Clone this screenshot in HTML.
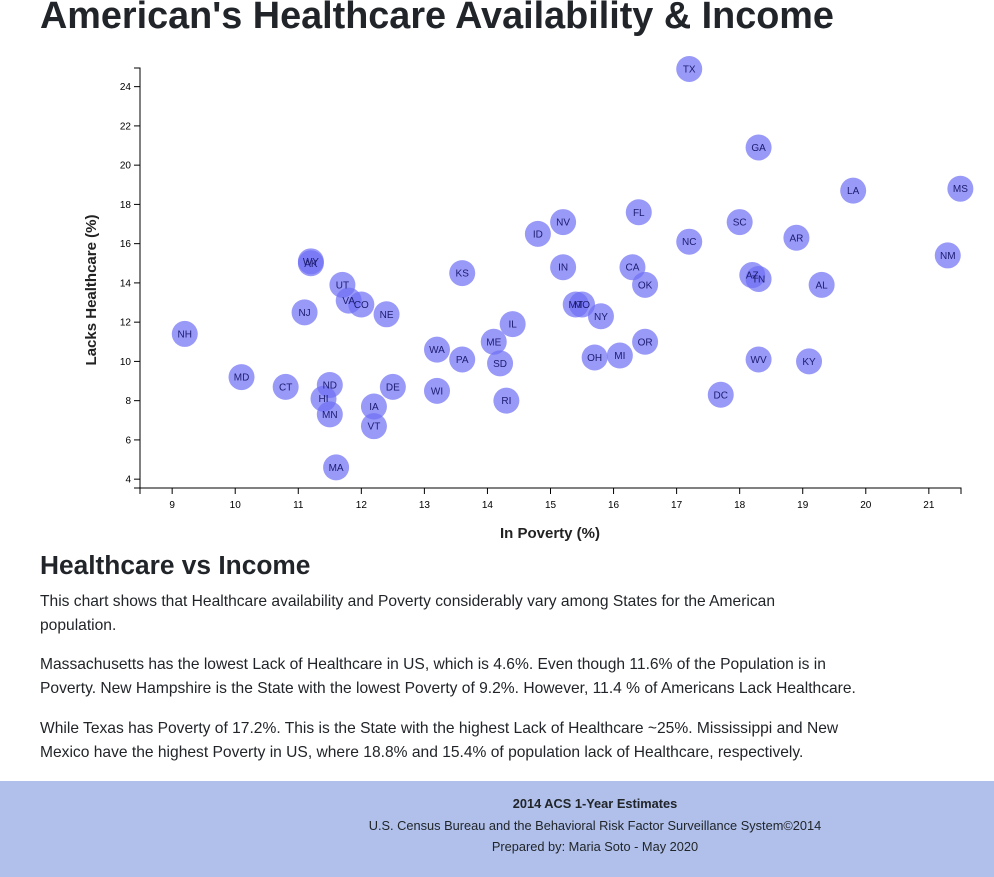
<!DOCTYPE html>
<html><head><meta charset="utf-8"><style>
body{margin:0;width:994px;height:877px;overflow:hidden;background:#fff;font-family:"Liberation Sans","DejaVu Sans",sans-serif;color:#212529;position:relative}
h1{position:absolute;left:40px;top:-5px;margin:0;font-size:37.8px;font-weight:bold;color:#212529}
h2{position:absolute;left:40px;top:550px;margin:0;font-size:26.3px;font-weight:bold;color:#212529}
.txt{position:absolute;left:40px;width:900px;font-size:15.6px;line-height:24px;margin:0;white-space:nowrap}
footer{position:absolute;left:0;top:781px;width:994px;height:96px;background:#b0c0eb;text-align:center;font-size:12.8px;line-height:21.5px;padding-top:12px;box-sizing:border-box}
footer div{position:absolute;left:0;width:1190px;top:12px}
svg text{font-family:"Liberation Sans",sans-serif}
</style></head><body>
<h1>American's Healthcare Availability &amp; Income</h1>
<svg id="chart" width="994" height="545" style="position:absolute;left:0;top:0"></svg>
<h2>Healthcare vs Income</h2>
<p class="txt" style="top:590px">This chart shows that Healthcare availability and Poverty considerably vary among States for the American<br>population.</p>
<p class="txt" style="top:653px">Massachusetts has the lowest Lack of Healthcare in US, which is 4.6%. Even though 11.6% of the Population is in<br>Poverty. New Hampshire is the State with the lowest Poverty of 9.2%. However, 11.4 % of Americans Lack Healthcare.</p>
<p class="txt" style="top:717px">While Texas has Poverty of 17.2%. This is the State with the highest Lack of Healthcare ~25%. Mississippi and New<br>Mexico have the highest Poverty in US, where 18.8% and 15.4% of population lack of Healthcare, respectively.</p>
<footer><div><b>2014 ACS 1-Year Estimates</b><br>U.S. Census Bureau and the Behavioral Risk Factor Surveillance System©2014<br>Prepared by: Maria Soto - May 2020</div></footer>
<script>
const states=["NH","MD","CT","NJ","AK","WY","UT","VA","CO","NE","ND","HI","MN","MA","IA","VT","DE","WA","WI","KS","PA","ME","SD","RI","IL","ID","NV","IN","MT","MO","NY","OH","MI","FL","CA","OK","OR","TX","NC","DC","SC","GA","AZ","TN","WV","AR","KY","AL","LA","NM","MS"];
const poverty=[9.2,10.1,10.8,11.1,11.2,11.2,11.7,11.8,12.0,12.4,11.5,11.4,11.5,11.6,12.2,12.2,12.5,13.2,13.2,13.6,13.6,14.1,14.2,14.3,14.4,14.8,15.2,15.2,15.4,15.5,15.8,15.7,16.1,16.4,16.3,16.5,16.5,17.2,17.2,17.7,18.0,18.3,18.2,18.3,18.3,18.9,19.1,19.3,19.8,21.3,21.5];
const healthcare=[11.4,9.2,8.7,12.5,15.0,15.1,13.9,13.1,12.9,12.4,8.8,8.1,7.3,4.6,7.7,6.7,8.7,10.6,8.5,14.5,10.1,11.0,9.9,8.0,11.9,16.5,17.1,14.8,12.9,12.9,12.3,10.2,10.3,17.6,14.8,13.9,11.0,24.9,16.1,8.3,17.1,20.9,14.4,14.2,10.1,16.3,10.0,13.9,18.7,15.4,18.8];
const xTicks=[9,10,11,12,13,14,15,16,17,18,19,20,21];
const yTicks=[4,6,8,10,12,14,16,18,20,22,24];
const NS="http://www.w3.org/2000/svg",svg=document.getElementById('chart');
const L=140,R=961,T=68,B=488,x0=8.49,x1=21.51,y0=3.55,y1=24.95;
const X=v=>L+(v-x0)/(x1-x0)*(R-L), Y=v=>B-(v-y0)/(y1-y0)*(B-T);
function mk(t,a,p){const e=document.createElementNS(NS,t);for(const k in a)e.setAttribute(k,a[k]);(p||svg).appendChild(e);return e;}
let g=mk('g',{});


mk('path',{d:`M${L},${B+6}V${B}H${R}V${B+6}`,stroke:'#000',fill:'none'},g);
xTicks.forEach(t=>{mk('line',{x1:X(t),x2:X(t),y1:B,y2:B+6,stroke:'#000'},g);const tx=mk('text',{x:X(t),y:B+20,'font-size':10,'text-anchor':'middle'},g);tx.textContent=t;

});
g=mk('g',{});


mk('path',{d:`M${L-6},${T}H${L}V${B}H${L-6}`,stroke:'#000',fill:'none'},g);
yTicks.forEach(t=>{mk('line',{x1:L-6,x2:L,y1:Y(t),y2:Y(t),stroke:'#000'},g);const tx=mk('text',{x:L-9,y:Y(t)+3.5,'font-size':10,'text-anchor':'end'},g);tx.textContent=t;

});
states.forEach((s,i)=>{const c=mk('circle',{cx:X(poverty[i]),cy:Y(healthcare[i]),r:13,fill:'rgb(110,110,245)','fill-opacity':0.7});

});
states.forEach((s,i)=>{const t=mk('text',{x:X(poverty[i]),y:Y(healthcare[i])+3.5,'font-size':10,'text-anchor':'middle',fill:'#1c1c70'});t.textContent=s;

});
let t=mk('text',{x:550,y:538,'font-size':15,'font-weight':'bold','text-anchor':'middle',fill:'#222'});t.textContent='In Poverty (%)';


t=mk('text',{x:0,y:0,'font-size':15,'font-weight':'bold','text-anchor':'middle',fill:'#222',transform:'translate(96,290) rotate(-90)'});t.textContent='Lacks Healthcare (%)';


</script>
</body></html>
